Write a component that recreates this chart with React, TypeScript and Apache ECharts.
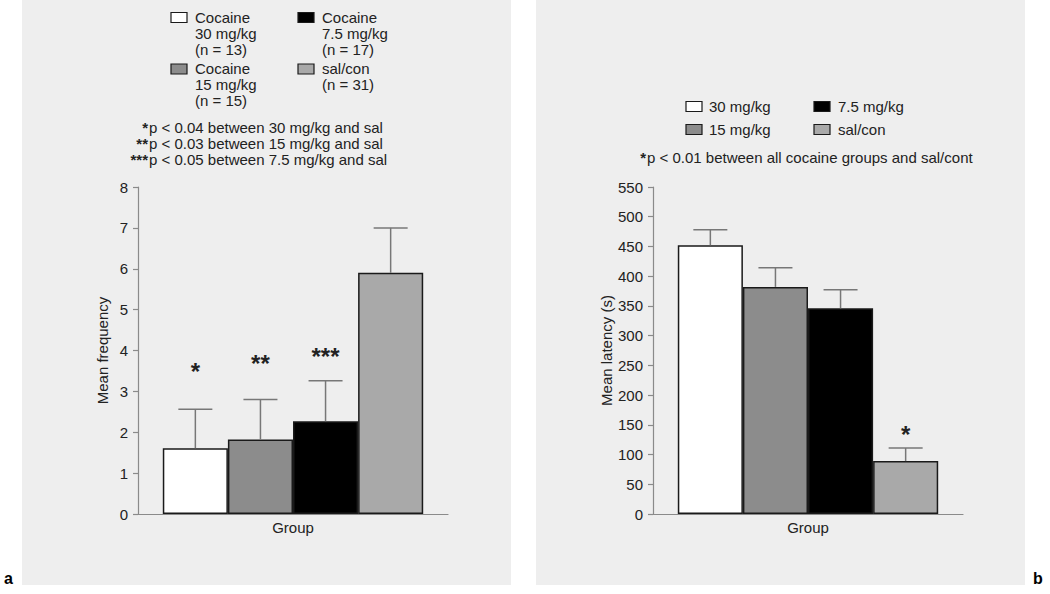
import React, { useEffect, useRef } from "react";
import * as echarts from "echarts";

const categories = ["Group"];
const leftNames = [
  "Cocaine\n30 mg/kg\n(n = 13)",
  "Cocaine\n15 mg/kg\n(n = 15)",
  "Cocaine\n7.5 mg/kg\n(n = 17)",
  "sal/con\n(n = 31)",
];
const rightNames = ["30 mg/kg", "15 mg/kg", "7.5 mg/kg", "sal/con"];
const groupColors = ["#ffffff", "#8c8c8c", "#000000", "#a9a9a9"];

const freqMeans = [1.61, 1.82, 2.27, 5.9];
const freqErrors = [0.95, 0.98, 0.99, 1.1];
const freqStars = ["*", "**", "***", ""];
const freqStarLevels = [3.57, 3.75, 3.92, 0];

const latencyMeans = [452, 382, 346, 89];
const latencyErrors = [26, 32, 31, 22];
const latencyStars = ["", "", "", "*"];
const latencyStarLevels = [0, 0, 0, 138];

const freqAxis = { min: 0, max: 8, interval: 1, name: "Mean frequency" };
const latencyAxis = { min: 0, max: 550, interval: 50, name: "Mean latency (s)" };

const freqNotes: [string, string][] = [
  ["*", "p < 0.04 between 30 mg/kg and sal"],
  ["**", "p < 0.03 between 15 mg/kg and sal"],
  ["***", "p < 0.05 between 7.5 mg/kg and sal"],
];
const latencyNotes: [string, string][] = [
  ["*", "p < 0.01 between all cocaine groups and sal/cont"],
];

const FONT = "'Liberation Sans', Arial, Helvetica, sans-serif";
const TXT = "#222222";
const AXIS = "#8a8a8a";
const GAP = 0.16;
const FS = 15;

function legendGraphics(names: string[], boxX: number[], textX: number[], rowBoxY: number[], rowTextY: number[]) {
  const slots = [
    [0, 0],
    [1, 0],
    [0, 1],
    [1, 1],
  ];
  const els: any[] = [];
  names.forEach((n, i) => {
    const [row, col] = slots[i];
    els.push({
      type: "rect",
      shape: { x: boxX[col], y: rowBoxY[row], width: 16, height: 10 },
      style: { fill: groupColors[i], stroke: "#1a1a1a", lineWidth: 1.2 },
    });
    els.push({
      type: "text",
      style: {
        text: n,
        x: textX[col],
        y: rowTextY[row],
        fill: TXT,
        fontSize: FS,
        fontFamily: FONT,
        lineHeight: 16,
        verticalAlign: "top",
        align: "left",
      },
    });
  });
  return els;
}

function noteGraphics(notes: [string, string][], xSplit: number, y0: number, step: number) {
  const els: any[] = [];
  notes.forEach(([star, txt], i) => {
    const y = y0 + i * step;
    els.push({
      type: "text",
      style: { text: star, x: xSplit, y, align: "right", verticalAlign: "middle", fill: TXT, fontSize: FS, fontFamily: FONT, fontWeight: "bold" },
    });
    els.push({
      type: "text",
      style: { text: txt, x: xSplit + 1, y, align: "left", verticalAlign: "middle", fill: TXT, fontSize: FS, fontFamily: FONT },
    });
  });
  return els;
}

function makeErrorSeries(idx: number, means: number[], errs: number[], stars: string[], starLevels: number[]) {
  const data = means.map((m, i) => [0, m, errs[i], i, starLevels[i]]);
  return {
    type: "custom",
    xAxisIndex: idx,
    yAxisIndex: idx,
    z: 5,
    encode: { x: 0, y: 1 },
    data,
    renderItem: (params: any, api: any) => {
      const mean = api.value(1);
      const err = api.value(2);
      const i = api.value(3);
      const lvl = api.value(4);
      const base = api.coord([0, mean]);
      const top = api.coord([0, mean + err]);
      const band = api.size([1, 0])[0];
      const total = band * (1 - GAP);
      const bw = total / means.length;
      const cx = base[0] - total / 2 + bw * (i + 0.5);
      const cap = 17;
      const children: any[] = [
        { type: "line", shape: { x1: cx, y1: base[1], x2: cx, y2: top[1] }, style: { stroke: "#777777", lineWidth: 1.5 } },
        { type: "line", shape: { x1: cx - cap, y1: top[1], x2: cx + cap, y2: top[1] }, style: { stroke: "#777777", lineWidth: 1.5 } },
      ];
      if (stars[i]) {
        const sp = api.coord([0, lvl]);
        children.push({
          type: "text",
          style: { text: stars[i], x: cx, y: sp[1] + 3, align: "center", verticalAlign: "middle", fill: "#222", fontSize: 24, fontWeight: "bold", fontFamily: FONT },
        });
      }
      return { type: "group", children };
    },
  };
}

function makeBars(idx: number, names: string[], means: number[]) {
  return names.map((n, i) => ({
    type: "bar",
    name: n,
    xAxisIndex: idx,
    yAxisIndex: idx,
    data: [means[i]],
    barGap: "0%",
    barCategoryGap: GAP * 100 + "%",
    itemStyle: { color: groupColors[i], borderColor: "#1a1a1a", borderWidth: 1.5 },
    z: 3,
  }));
}

function yAxisOpt(idx: number, ax: any, nameGap: number) {
  return {
    type: "value",
    gridIndex: idx,
    min: ax.min,
    max: ax.max,
    interval: ax.interval,
    name: ax.name,
    nameLocation: "middle",
    nameGap,
    nameTextStyle: { color: TXT, fontSize: FS, fontFamily: FONT },
    axisLine: { show: true, lineStyle: { color: AXIS, width: 1.2 } },
    axisTick: { show: true, length: 5, lineStyle: { color: AXIS, width: 1.2 } },
    axisLabel: { color: TXT, fontSize: FS, fontFamily: FONT, margin: 10 },
    splitLine: { show: false },
  };
}

function xAxisOpt(idx: number) {
  return {
    type: "category",
    gridIndex: idx,
    data: categories,
    axisLine: { show: true, lineStyle: { color: AXIS, width: 1.2 } },
    axisTick: { show: false },
    axisLabel: { color: TXT, fontSize: FS, fontFamily: FONT, margin: 6 },
  };
}

export default function App() {
  const ref = useRef<HTMLDivElement>(null);
  useEffect(() => {
    if (!ref.current) return;
    const chart = echarts.init(ref.current, undefined, { renderer: "svg" });
    const graphic: any[] = [
      { type: "rect", z: -10, shape: { x: 22, y: 0, width: 489, height: 585 }, style: { fill: "#eeeeee" } },
      { type: "rect", z: -10, shape: { x: 536, y: 0, width: 489, height: 585 }, style: { fill: "#eeeeee" } },
      ...legendGraphics(leftNames, [171, 298], [195, 322], [12.5, 64], [9, 60]),
      ...legendGraphics(rightNames, [686, 814], [709, 838], [101.5, 124.5], [98, 121]),
      ...noteGraphics(freqNotes, 148, 127, 16),
      ...noteGraphics(latencyNotes, 646, 157, 16),
      { type: "text", style: { text: "a", x: 4, y: 586, verticalAlign: "bottom", fill: "#000", fontSize: 16, fontWeight: "bold", fontFamily: FONT } },
      { type: "text", style: { text: "b", x: 1033, y: 586, verticalAlign: "bottom", fill: "#000", fontSize: 16, fontWeight: "bold", fontFamily: FONT } },
    ];
    chart.setOption({
      animation: false,
      backgroundColor: "#ffffff",
      textStyle: { fontFamily: FONT },
      grid: [
        { left: 138, right: 1050 - 448, top: 187, bottom: 594 - 514 },
        { left: 653, right: 1050 - 963, top: 187, bottom: 594 - 514 },
      ],
      xAxis: [xAxisOpt(0), xAxisOpt(1)],
      yAxis: [yAxisOpt(0, freqAxis, 28), yAxisOpt(1, latencyAxis, 39)],
      graphic,
      series: [
        ...makeBars(0, leftNames, freqMeans),
        makeErrorSeries(0, freqMeans, freqErrors, freqStars, freqStarLevels),
        ...makeBars(1, rightNames, latencyMeans),
        makeErrorSeries(1, latencyMeans, latencyErrors, latencyStars, latencyStarLevels),
      ],
    });
    return () => chart.dispose();
  }, []);
  return <div ref={ref} style={{ position: "fixed", left: 0, top: 0, width: 1050, height: 594 }} />;
}
